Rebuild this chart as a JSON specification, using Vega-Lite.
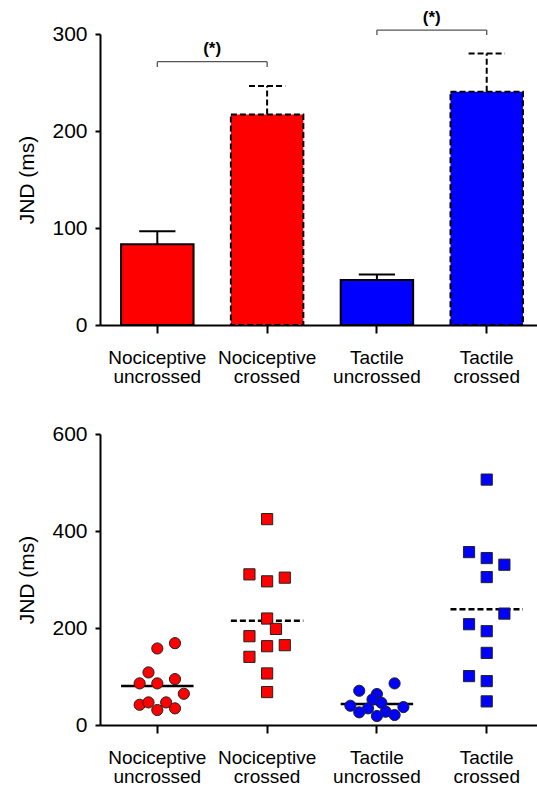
{
  "$schema": "https://vega.github.io/schema/vega-lite/v6.json",
  "padding": {"left": 16, "top": 9, "right": 0, "bottom": 0},
  "spacing": 37,
  "config": {
    "font": "Liberation Sans",
    "view": {"stroke": null},
    "axis": {
      "domainColor": "black", "domainWidth": 2, "tickColor": "black", "tickWidth": 2,
      "labelColor": "black", "titleColor": "black", "grid": false,
      "labelFont": "Liberation Sans", "titleFont": "Liberation Sans"
    }
  },
  "datasets": {
    "bars": [
      {"cat": "Nociceptive uncrossed", "modality": "Nociceptive", "posture": "uncrossed", "mean": 83.3, "upper": 96.7},
      {"cat": "Nociceptive crossed", "modality": "Nociceptive", "posture": "crossed", "mean": 217, "upper": 246.5},
      {"cat": "Tactile uncrossed", "modality": "Tactile", "posture": "uncrossed", "mean": 46.3, "upper": 52},
      {"cat": "Tactile crossed", "modality": "Tactile", "posture": "crossed", "mean": 240.5, "upper": 280}
    ],
    "brackets": [
      {"from": "Nociceptive uncrossed", "to": "Nociceptive crossed", "y": 271.5, "ytext": 285, "label": "(*)"},
      {"from": "Tactile uncrossed", "to": "Tactile crossed", "y": 304, "ytext": 316, "label": "(*)"}
    ],
    "legs": [
      {"cat": "Nociceptive uncrossed", "y": 266, "y2": 271.5},
      {"cat": "Nociceptive crossed", "y": 266, "y2": 271.5},
      {"cat": "Tactile uncrossed", "y": 299, "y2": 304},
      {"cat": "Tactile crossed", "y": 299, "y2": 304}
    ],
    "points": [
      {"cat": "Nociceptive uncrossed", "modality": "Nociceptive", "posture": "uncrossed", "jnd": 157.8, "lane": 0},
      {"cat": "Nociceptive uncrossed", "modality": "Nociceptive", "posture": "uncrossed", "jnd": 168.7, "lane": 2},
      {"cat": "Nociceptive uncrossed", "modality": "Nociceptive", "posture": "uncrossed", "jnd": 108.4, "lane": -1},
      {"cat": "Nociceptive uncrossed", "modality": "Nociceptive", "posture": "uncrossed", "jnd": 85.8, "lane": -2},
      {"cat": "Nociceptive uncrossed", "modality": "Nociceptive", "posture": "uncrossed", "jnd": 85.8, "lane": 0},
      {"cat": "Nociceptive uncrossed", "modality": "Nociceptive", "posture": "uncrossed", "jnd": 94.6, "lane": 2},
      {"cat": "Nociceptive uncrossed", "modality": "Nociceptive", "posture": "uncrossed", "jnd": 64.4, "lane": 3},
      {"cat": "Nociceptive uncrossed", "modality": "Nociceptive", "posture": "uncrossed", "jnd": 41.7, "lane": -2},
      {"cat": "Nociceptive uncrossed", "modality": "Nociceptive", "posture": "uncrossed", "jnd": 46.6, "lane": -1},
      {"cat": "Nociceptive uncrossed", "modality": "Nociceptive", "posture": "uncrossed", "jnd": 46.6, "lane": 1},
      {"cat": "Nociceptive uncrossed", "modality": "Nociceptive", "posture": "uncrossed", "jnd": 30.9, "lane": 0},
      {"cat": "Nociceptive uncrossed", "modality": "Nociceptive", "posture": "uncrossed", "jnd": 34.3, "lane": 2},
      {"cat": "Nociceptive crossed", "modality": "Nociceptive", "posture": "crossed", "jnd": 424.5, "lane": 0},
      {"cat": "Nociceptive crossed", "modality": "Nociceptive", "posture": "crossed", "jnd": 310.6, "lane": -2},
      {"cat": "Nociceptive crossed", "modality": "Nociceptive", "posture": "crossed", "jnd": 296.2, "lane": 0},
      {"cat": "Nociceptive crossed", "modality": "Nociceptive", "posture": "crossed", "jnd": 303.8, "lane": 2},
      {"cat": "Nociceptive crossed", "modality": "Nociceptive", "posture": "crossed", "jnd": 219.5, "lane": 0},
      {"cat": "Nociceptive crossed", "modality": "Nociceptive", "posture": "crossed", "jnd": 198.1, "lane": 1},
      {"cat": "Nociceptive crossed", "modality": "Nociceptive", "posture": "crossed", "jnd": 183.1, "lane": -2},
      {"cat": "Nociceptive crossed", "modality": "Nociceptive", "posture": "crossed", "jnd": 162.5, "lane": 0},
      {"cat": "Nociceptive crossed", "modality": "Nociceptive", "posture": "crossed", "jnd": 164.6, "lane": 2},
      {"cat": "Nociceptive crossed", "modality": "Nociceptive", "posture": "crossed", "jnd": 140.5, "lane": -2},
      {"cat": "Nociceptive crossed", "modality": "Nociceptive", "posture": "crossed", "jnd": 106.3, "lane": 0},
      {"cat": "Nociceptive crossed", "modality": "Nociceptive", "posture": "crossed", "jnd": 67.9, "lane": 0},
      {"cat": "Tactile uncrossed", "modality": "Tactile", "posture": "uncrossed", "jnd": 85.8, "lane": 2},
      {"cat": "Tactile uncrossed", "modality": "Tactile", "posture": "uncrossed", "jnd": 70.6, "lane": -2},
      {"cat": "Tactile uncrossed", "modality": "Tactile", "posture": "uncrossed", "jnd": 63.8, "lane": 0},
      {"cat": "Tactile uncrossed", "modality": "Tactile", "posture": "uncrossed", "jnd": 52.8, "lane": -0.5},
      {"cat": "Tactile uncrossed", "modality": "Tactile", "posture": "uncrossed", "jnd": 45.9, "lane": 0.5},
      {"cat": "Tactile uncrossed", "modality": "Tactile", "posture": "uncrossed", "jnd": 39.7, "lane": -3},
      {"cat": "Tactile uncrossed", "modality": "Tactile", "posture": "uncrossed", "jnd": 37, "lane": 3},
      {"cat": "Tactile uncrossed", "modality": "Tactile", "posture": "uncrossed", "jnd": 34.3, "lane": -1},
      {"cat": "Tactile uncrossed", "modality": "Tactile", "posture": "uncrossed", "jnd": 26.1, "lane": -2},
      {"cat": "Tactile uncrossed", "modality": "Tactile", "posture": "uncrossed", "jnd": 27.4, "lane": 1},
      {"cat": "Tactile uncrossed", "modality": "Tactile", "posture": "uncrossed", "jnd": 18.5, "lane": 0},
      {"cat": "Tactile uncrossed", "modality": "Tactile", "posture": "uncrossed", "jnd": 20.6, "lane": 2},
      {"cat": "Tactile crossed", "modality": "Tactile", "posture": "crossed", "jnd": 506, "lane": 0},
      {"cat": "Tactile crossed", "modality": "Tactile", "posture": "crossed", "jnd": 356.5, "lane": -2},
      {"cat": "Tactile crossed", "modality": "Tactile", "posture": "crossed", "jnd": 344.2, "lane": 0},
      {"cat": "Tactile crossed", "modality": "Tactile", "posture": "crossed", "jnd": 330.5, "lane": 2},
      {"cat": "Tactile crossed", "modality": "Tactile", "posture": "crossed", "jnd": 305, "lane": 0},
      {"cat": "Tactile crossed", "modality": "Tactile", "posture": "crossed", "jnd": 229.7, "lane": 2},
      {"cat": "Tactile crossed", "modality": "Tactile", "posture": "crossed", "jnd": 207.8, "lane": -2},
      {"cat": "Tactile crossed", "modality": "Tactile", "posture": "crossed", "jnd": 193.4, "lane": 0},
      {"cat": "Tactile crossed", "modality": "Tactile", "posture": "crossed", "jnd": 148.7, "lane": 0},
      {"cat": "Tactile crossed", "modality": "Tactile", "posture": "crossed", "jnd": 100.8, "lane": -2},
      {"cat": "Tactile crossed", "modality": "Tactile", "posture": "crossed", "jnd": 90.5, "lane": 0},
      {"cat": "Tactile crossed", "modality": "Tactile", "posture": "crossed", "jnd": 48.7, "lane": 0}
    ]
  },
  "vconcat": [
    {
      "width": 437,
      "height": 291,
      "layer": [
        {
          "data": {"name": "bars"},
          "mark": {"type": "bar", "stroke": "black", "strokeWidth": 2},
          "encoding": {
            "x": {
              "field": "cat", "type": "nominal", "title": null, "bandPosition": 0,
              "scale": {"type": "band", "domain": ["Nociceptive uncrossed", "Nociceptive crossed", "Tactile uncrossed", "Tactile crossed"], "paddingInner": 0.34, "paddingOuter": 0.16, "align": 0.6},
              "axis": {"labelExpr": "split(datum.label, ' ')", "labelAngle": 0, "labelFontSize": 19, "labelLineHeight": 19, "tickSize": 8, "labelPadding": 15}
            },
            "x2": {"field": "cat", "bandPosition": 1},
            "y": {
              "field": "mean", "type": "quantitative", "title": "JND (ms)",
              "scale": {"domain": [0, 300], "nice": false},
              "axis": {"values": [0, 100, 200, 300], "labelFontSize": 21, "tickSize": 5, "labelPadding": 8, "titleFontSize": 21, "titleFontWeight": "normal", "titlePadding": 14}
            },
            "y2": {"datum": 0},
            "color": {"field": "modality", "type": "nominal", "scale": {"domain": ["Nociceptive", "Tactile"], "range": ["#ff0000", "#0000ff"]}, "legend": null},
            "strokeDash": {"field": "posture", "type": "nominal", "scale": {"domain": ["uncrossed", "crossed"], "range": [[1, 0], [6, 3]]}, "legend": null}
          }
        },
        {
          "data": {"name": "bars"},
          "mark": {"type": "rule", "color": "black", "strokeWidth": 2},
          "encoding": {
            "x": {"field": "cat", "type": "nominal", "bandPosition": 0.5},
            "y": {"field": "mean", "type": "quantitative"},
            "y2": {"field": "upper"},
            "strokeDash": {"field": "posture", "type": "nominal"}
          }
        },
        {
          "data": {"name": "bars"},
          "mark": {"type": "rule", "color": "black", "strokeWidth": 2},
          "encoding": {
            "x": {"field": "cat", "type": "nominal", "bandPosition": 0.25},
            "x2": {"field": "cat", "bandPosition": 0.75},
            "y": {"field": "upper", "type": "quantitative"},
            "strokeDash": {"field": "posture", "type": "nominal"}
          }
        },
        {
          "data": {"name": "brackets"},
          "mark": {"type": "rule", "color": "#555555", "strokeWidth": 1.3},
          "encoding": {
            "x": {"field": "from", "type": "nominal", "bandPosition": 0.5},
            "x2": {"field": "to", "bandPosition": 0.5},
            "y": {"field": "y", "type": "quantitative"}
          }
        },
        {
          "data": {"name": "legs"},
          "mark": {"type": "rule", "color": "#555555", "strokeWidth": 1.3},
          "encoding": {
            "x": {"field": "cat", "type": "nominal", "bandPosition": 0.5},
            "y": {"field": "y", "type": "quantitative"},
            "y2": {"field": "y2"}
          }
        },
        {
          "data": {"name": "brackets"},
          "mark": {"type": "text", "fontSize": 17, "fontWeight": "bold", "color": "black"},
          "encoding": {
            "x": {"field": "from", "type": "nominal", "bandPosition": 1.257},
            "y": {"field": "ytext", "type": "quantitative"},
            "text": {"field": "label"}
          }
        }
      ]
    },
    {
      "width": 437,
      "height": 291,
      "layer": [
        {
          "data": {"name": "points"},
          "mark": {"type": "rule", "color": "black", "strokeWidth": 2.5},
          "encoding": {
            "x": {
              "field": "cat", "type": "nominal", "title": null, "bandPosition": 0,
              "scale": {"type": "band", "domain": ["Nociceptive uncrossed", "Nociceptive crossed", "Tactile uncrossed", "Tactile crossed"], "paddingInner": 0.34, "paddingOuter": 0.16, "align": 0.6},
              "axis": {"labelExpr": "split(datum.label, ' ')", "labelAngle": 0, "labelFontSize": 19, "labelLineHeight": 19, "tickSize": 8, "labelPadding": 15}
            },
            "x2": {"field": "cat", "bandPosition": 1},
            "y": {
              "aggregate": "mean", "field": "jnd", "type": "quantitative", "title": "JND (ms)",
              "scale": {"domain": [0, 600], "nice": false},
              "axis": {"values": [0, 200, 400, 600], "labelFontSize": 21, "tickSize": 5, "labelPadding": 8, "titleFontSize": 21, "titleFontWeight": "normal", "titlePadding": 14}
            },
            "strokeDash": {"field": "posture", "type": "nominal", "scale": {"domain": ["uncrossed", "crossed"], "range": [[1, 0], [6, 3]]}, "legend": null}
          }
        },
        {
          "data": {"name": "points"},
          "mark": {"type": "point", "filled": true, "size": 125, "stroke": "#222222", "strokeWidth": 1, "opacity": 1},
          "encoding": {
            "x": {"field": "cat", "type": "nominal"},
            "xOffset": {"field": "lane", "type": "quantitative", "scale": {"domain": [-4.1, 4.1]}},
            "y": {"field": "jnd", "type": "quantitative"},
            "color": {"field": "modality", "type": "nominal", "scale": {"domain": ["Nociceptive", "Tactile"], "range": ["#ff0000", "#0000ff"]}, "legend": null},
            "shape": {"field": "posture", "type": "nominal", "scale": {"domain": ["uncrossed", "crossed"], "range": ["circle", "square"]}, "legend": null}
          }
        }
      ]
    }
  ]
}
